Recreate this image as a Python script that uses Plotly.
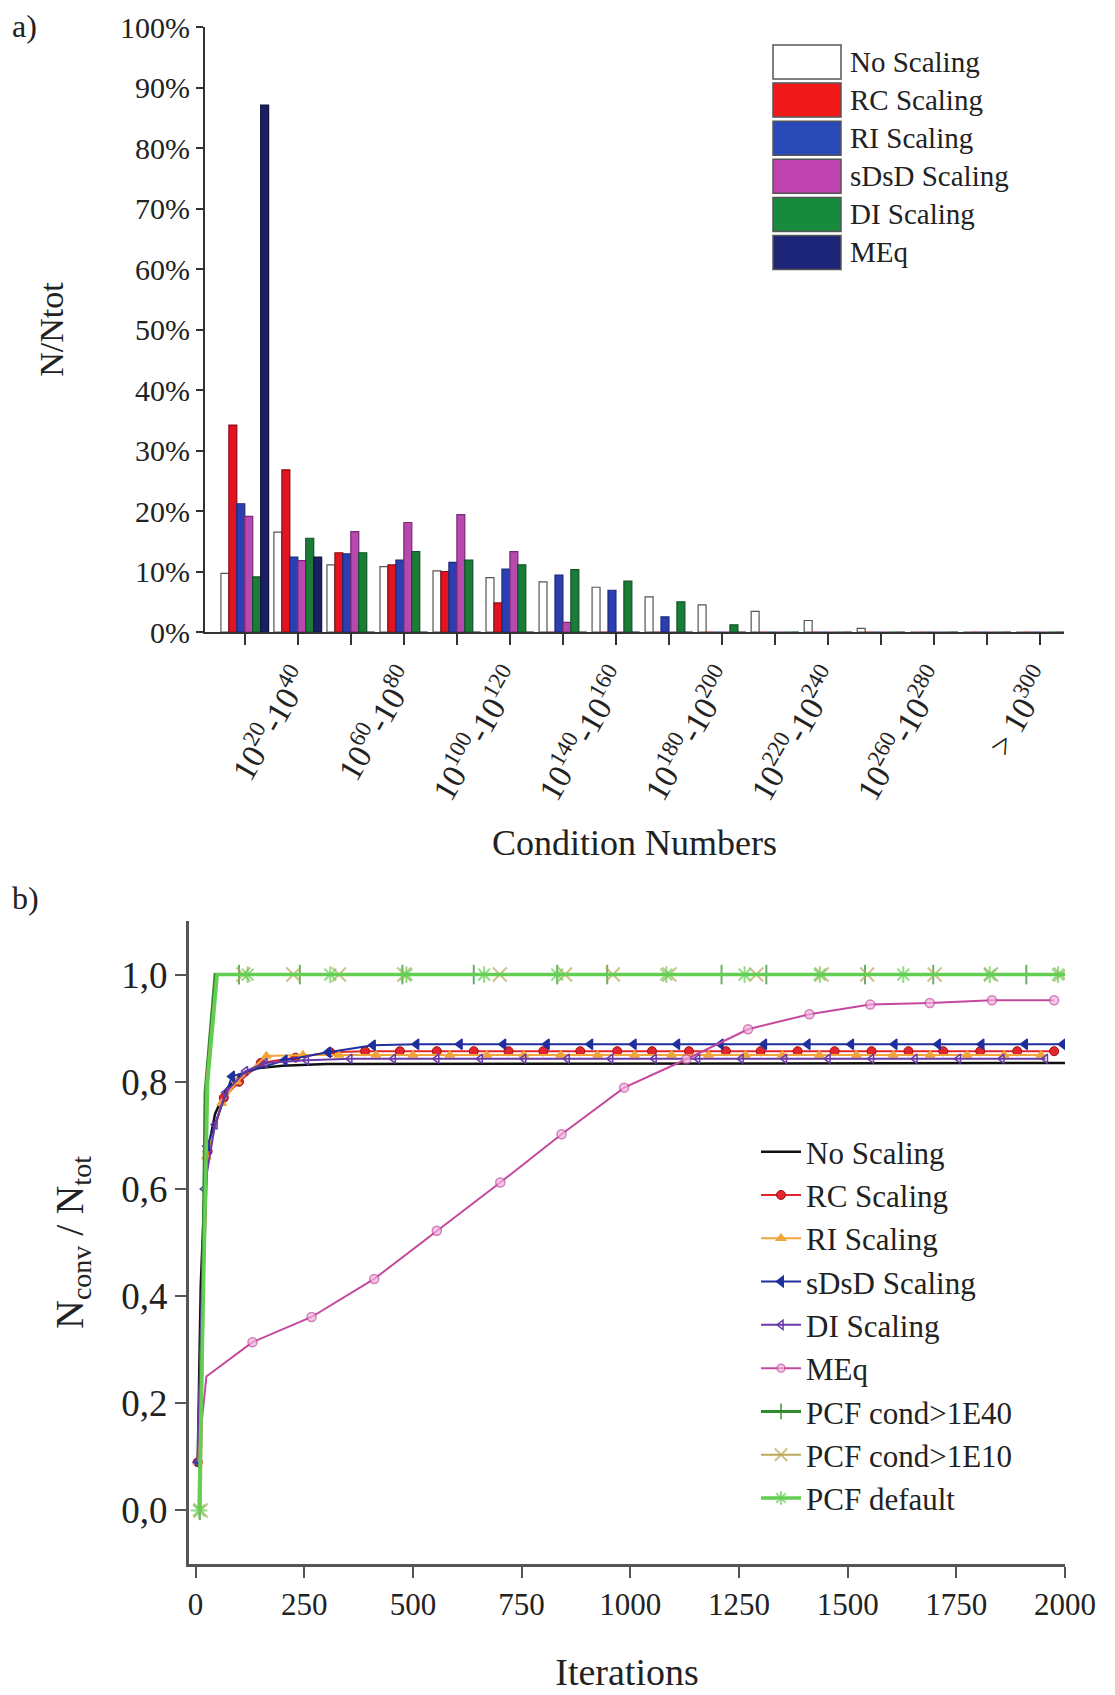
import plotly.graph_objects as go

W, H = 1115, 1695
OFF = 8  # the page body adds an 8 px margin; layout positions below are page pixels
FONT = "Liberation Serif"

# ---------------- (a) condition number histogram ----------------
cond_categories = [
    "10<sup>0</sup>-10<sup>20</sup>", "10<sup>20</sup>-10<sup>40</sup>",
    "10<sup>40</sup>-10<sup>60</sup>", "10<sup>60</sup>-10<sup>80</sup>",
    "10<sup>80</sup>-10<sup>100</sup>", "10<sup>100</sup>-10<sup>120</sup>",
    "10<sup>120</sup>-10<sup>140</sup>", "10<sup>140</sup>-10<sup>160</sup>",
    "10<sup>160</sup>-10<sup>180</sup>", "10<sup>180</sup>-10<sup>200</sup>",
    "10<sup>200</sup>-10<sup>220</sup>", "10<sup>220</sup>-10<sup>240</sup>",
    "10<sup>240</sup>-10<sup>260</sup>", "10<sup>260</sup>-10<sup>280</sup>",
    "10<sup>280</sup>-10<sup>300</sup>", "> 10<sup>300</sup>",
]
bar_names = ["No Scaling", "RC Scaling", "RI Scaling", "sDsD Scaling", "DI Scaling", "MEq"]
pct_no_scaling = [9.7, 16.5, 11.1, 10.8, 10.1, 9.0, 8.3, 7.4, 5.8, 4.5, 3.4, 1.9, 0.6, 0, 0, 0]
pct_rc = [34.2, 26.8, 13.1, 11.1, 10.0, 4.8, 0, 0, 0, 0, 0, 0, 0, 0, 0, 0]
pct_ri = [21.2, 12.4, 12.9, 11.9, 11.5, 10.4, 9.4, 6.9, 2.5, 0, 0, 0, 0, 0, 0, 0]
pct_sdsd = [19.1, 11.8, 16.6, 18.1, 19.4, 13.3, 1.6, 0, 0, 0, 0, 0, 0, 0, 0, 0]
pct_di = [9.1, 15.5, 13.1, 13.3, 11.9, 11.1, 10.3, 8.4, 5.0, 1.2, 0, 0, 0, 0, 0, 0]
pct_meq = [87.1, 12.4, 0, 0, 0, 0, 0, 0, 0, 0, 0, 0, 0, 0, 0, 0]
pct_ticks = [0, 10, 20, 30, 40, 50, 60, 70, 80, 90, 100]
pct_tick_text = ["0%", "10%", "20%", "30%", "40%", "50%", "60%", "70%", "80%", "90%", "100%"]

bar_values = [pct_no_scaling, pct_rc, pct_ri, pct_sdsd, pct_di, pct_meq]
bar_fill = ["#ffffff", "#e3141f", "#2b3fb3", "#b648ae", "#1a7d37", "#1b2063"]
bar_edge = ["#555555", "#8a0f18", "#1b2a7a", "#7a2a75", "#0f5224", "#10143d"]
swatch_fill = ["#ffffff", "#f01818", "#2a4ab8", "#c044b0", "#178a3b", "#1c2478"]

# ---------------- (b) convergence curves ----------------
iter_no = [5, 12, 20, 28, 45, 70, 100, 140, 200, 300, 2000]
conv_no = [0.09, 0.42, 0.58, 0.67, 0.74, 0.785, 0.81, 0.825, 0.83, 0.833, 0.835]

iter_rc = [5, 28, 65, 100, 150, 230, 310, 390, 470, 555, 640, 720, 800, 885, 970, 1050,
           1135, 1220, 1300, 1385, 1470, 1555, 1640, 1720, 1805, 1890, 1975]
conv_rc = [0.09, 0.67, 0.77, 0.80, 0.835, 0.845, 0.855, 0.857, 0.857, 0.857, 0.857, 0.857,
           0.857, 0.857, 0.857, 0.857, 0.857, 0.857, 0.857, 0.857, 0.857, 0.857, 0.857, 0.857,
           0.857, 0.857, 0.857]

iter_ri = [5, 25, 60, 95, 163, 247, 330, 415, 500, 585, 670, 755, 840, 925, 1010, 1095,
           1180, 1265, 1350, 1435, 1520, 1605, 1690, 1775, 1860, 1945]
conv_ri = [0.09, 0.66, 0.76, 0.80, 0.848, 0.85, 0.85, 0.85, 0.85, 0.85, 0.85, 0.85, 0.85,
           0.85, 0.85, 0.85, 0.85, 0.85, 0.85, 0.85, 0.85, 0.85, 0.85, 0.85, 0.85, 0.85]

iter_sd = [5, 27, 84, 205, 305, 408, 508, 608, 708, 808, 908, 1008, 1108, 1208, 1308, 1408,
           1508, 1608, 1708, 1808, 1908, 1995]
conv_sd = [0.09, 0.68, 0.81, 0.84, 0.855, 0.868, 0.87, 0.87, 0.87, 0.87, 0.87, 0.87, 0.87,
           0.87, 0.87, 0.87, 0.87, 0.87, 0.87, 0.87, 0.87, 0.87]

iter_di = [5, 20, 45, 69, 115, 160, 255, 355, 455, 555, 655, 755, 855, 955, 1055, 1155, 1255,
           1355, 1455, 1555, 1655, 1755, 1855, 1955]
conv_di = [0.09, 0.60, 0.72, 0.78, 0.82, 0.835, 0.84, 0.843, 0.843, 0.843, 0.843, 0.843, 0.843,
           0.843, 0.843, 0.843, 0.843, 0.843, 0.843, 0.843, 0.843, 0.843, 0.843, 0.843]

iter_meq = [5, 25, 131, 267, 411, 555, 701, 842, 986, 1129, 1271, 1412, 1552, 1689, 1832, 1975]
conv_meq = [0.09, 0.25, 0.314, 0.361, 0.432, 0.522, 0.612, 0.702, 0.789, 0.842, 0.898, 0.926,
            0.944, 0.947, 0.952, 0.952]
mark_meq = [0, 0, 1, 1, 1, 1, 1, 1, 1, 1, 1, 1, 1, 1, 1, 1]

iter_p40 = [10, 22, 45, 100, 240, 476, 640, 832, 947, 1210, 1313, 1540, 1697, 1911, 2000]
conv_p40 = [0.0, 0.78, 1.0, 1.0, 1.0, 1.0, 1.0, 1.0, 1.0, 1.0, 1.0, 1.0, 1.0, 1.0, 1.0]
mark_p40 = [1, 0, 0, 1, 1, 1, 1, 1, 1, 1, 1, 1, 1, 1, 0]

iter_p10 = [12, 25, 48, 110, 225, 330, 480, 700, 850, 960, 1090, 1290, 1440, 1545, 1700, 1830, 1990]
conv_p10 = [0.0, 0.8, 1.0, 1.0, 1.0, 1.0, 1.0, 1.0, 1.0, 1.0, 1.0, 1.0, 1.0, 1.0, 1.0, 1.0, 1.0]
mark_p10 = [1, 0, 0, 1, 1, 1, 1, 1, 1, 1, 1, 1, 1, 1, 1, 1, 1]

iter_pd = [8, 28, 50, 120, 310, 485, 664, 832, 1083, 1263, 1436, 1628, 1827, 1984, 2000]
conv_pd = [0.0, 0.8, 1.0, 1.0, 1.0, 1.0, 1.0, 1.0, 1.0, 1.0, 1.0, 1.0, 1.0, 1.0, 1.0]
mark_pd = [1, 0, 0, 1, 1, 1, 1, 1, 1, 1, 1, 1, 1, 1, 0]

iter_ticks = [0, 250, 500, 750, 1000, 1250, 1500, 1750, 2000]
conv_ticks = [0.0, 0.2, 0.4, 0.6, 0.8, 1.0]
conv_tick_text = ["0,0", "0,2", "0,4", "0,6", "0,8", "1,0"]


def fx(px):
    return (px - OFF) / W


def fy(py):
    return 1 - (py - OFF) / H


fig = go.Figure()

cat_pos = list(range(len(cond_categories)))
for name, vals, fill, edge in zip(bar_names, bar_values, bar_fill, bar_edge):
    fig.add_trace(go.Bar(
        x=cat_pos, y=vals, name=name, showlegend=False,
        hovertext=cond_categories,
        marker=dict(color=fill, line=dict(color=edge, width=1.2)),
        xaxis="x", yaxis="y",
    ))

line_series = [
    ("No Scaling", iter_no, conv_no, None, "#111111", "circle", 0, 2.5),
    ("RC Scaling", iter_rc, conv_rc, None, "#e3262e", "circle", 9, 2),
    ("RI Scaling", iter_ri, conv_ri, None, "#f0a53a", "triangle-up", 8, 2),
    ("sDsD Scaling", iter_sd, conv_sd, None, "#1f2f9c", "triangle-left", 9, 2),
    ("DI Scaling", iter_di, conv_di, None, "#6a3aa8", "triangle-left-open", 8, 2),
    ("MEq", iter_meq, conv_meq, mark_meq, "#c4489f", "circle", 9, 2),
    ("PCF cond&gt;1E40", iter_p40, conv_p40, mark_p40, "#2e8b2e", "line-ns-open", 14, 3),
    ("PCF cond&gt;1E10", iter_p10, conv_p10, mark_p10, "#b8a85a", "x-thin-open", 14, 2),
    ("PCF default", iter_pd, conv_pd, mark_pd, "#62cf52", "asterisk-open", 14, 3.5),
]

for name, xs, ys, marks, color, symbol, msize, lw in line_series:
    if marks is None:
        sizes = msize
    else:
        sizes = [msize * m for m in marks]
    mk = dict(symbol=symbol, size=sizes, color=color, line=dict(color=color, width=1.5))
    if name == "MEq":
        mk = dict(symbol="circle", size=sizes, color="#f2b4dc", line=dict(color=color, width=1.5))
    if name == "RC Scaling":
        mk = dict(symbol="circle", size=sizes, color="#e3262e", line=dict(color="#a01010", width=1))
    if symbol.endswith("open") and name != "DI Scaling":
        mk["line"] = dict(color=color, width=2)
    fig.add_trace(go.Scatter(
        x=xs, y=ys, name=name, mode="lines+markers" if msize else "lines",
        line=dict(color=color, width=lw), marker=mk,
        xaxis="x2", yaxis="y2", showlegend=True,
    ))

txt = "#222222"

fig.update_layout(
    width=W, height=H, autosize=False,
    margin=dict(l=0, r=0, t=0, b=0),
    paper_bgcolor="white", plot_bgcolor="white",
    font=dict(family=FONT, color=txt),
    barmode="group", bargap=0.1, bargroupgap=0.0,
    xaxis=dict(
        domain=[fx(205), fx(1064)], anchor="y",
        range=[-0.75, 15.45], tickmode="array",
        tickvals=cat_pos[1::2], ticktext=cond_categories[1::2],
        tickangle=-60, tickfont=dict(family=FONT, size=33, color=txt),
        ticks="outside", ticklen=11, tickwidth=2, tickcolor="#333333",
        minor=dict(tickmode="array", tickvals=cat_pos[0::2], ticks="outside",
                   ticklen=11, tickwidth=2, tickcolor="#333333", showgrid=False),
        showline=True, linecolor="#333333", linewidth=2, showgrid=False, zeroline=False,
        title=dict(text="Condition Numbers", font=dict(family=FONT, size=36, color=txt), standoff=24),
        automargin=False,
    ),
    yaxis=dict(
        domain=[fy(632), fy(27)], anchor="x", range=[0, 100],
        tickmode="array", tickvals=pct_ticks, ticktext=pct_tick_text,
        tickfont=dict(family=FONT, size=30, color=txt),
        ticks="outside", ticklen=7, tickwidth=2, tickcolor="#333333",
        showline=True, linecolor="#333333", linewidth=2, showgrid=False, zeroline=False,
        title=dict(text="N/Ntot", font=dict(family=FONT, size=34, color=txt), standoff=46),
        automargin=False,
    ),
    xaxis2=dict(
        domain=[fx(189), fx(1065)], anchor="y2", range=[-15, 2000],
        tickmode="array", tickvals=iter_ticks, tickfont=dict(family=FONT, size=31, color=txt),
        ticks="outside", ticklen=11, tickwidth=2, tickcolor="#555555",
        showline=True, linecolor="#555555", linewidth=3, showgrid=False, zeroline=False,
        title=dict(text="Iterations", font=dict(family=FONT, size=38, color=txt), standoff=38),
        automargin=False,
    ),
    yaxis2=dict(
        domain=[fy(1564), fy(921)], anchor="x2", range=[-0.1, 1.1],
        tickmode="array", tickvals=conv_ticks, ticktext=conv_tick_text,
        tickfont=dict(family=FONT, size=37, color=txt),
        ticks="outside", ticklen=11, tickwidth=2, tickcolor="#555555",
        showline=True, linecolor="#555555", linewidth=3, showgrid=False, zeroline=False,
        title=dict(text="N<sub>conv</sub> / N<sub>tot</sub>", font=dict(family=FONT, size=40, color=txt), standoff=26),
        automargin=False,
    ),
    legend=dict(
        x=fx(756), y=fy(1125), xanchor="left", yanchor="top",
        font=dict(family=FONT, size=31, color=txt),
        bgcolor="rgba(255,255,255,0)", borderwidth=0, tracegroupgap=0,
        itemwidth=40,
    ),
)

# custom legend for panel (a): large colour swatches as in the original
shapes = []
annotations = []
for i, (name, sw) in enumerate(zip(bar_names, swatch_fill)):
    yc = 62 + 38.1 * i
    shapes.append(dict(type="rect", xref="paper", yref="paper",
                       x0=fx(773), x1=fx(841), y0=fy(yc + 17), y1=fy(yc - 17),
                       fillcolor=sw, line=dict(color="#555555", width=1.5)))
    annotations.append(dict(text=name, xref="paper", yref="paper", x=fx(848), y=fy(yc),
                            xanchor="left", yanchor="middle", showarrow=False,
                            font=dict(family=FONT, size=29, color=txt)))

annotations.append(dict(text="a)", xref="paper", yref="paper", x=fx(10), y=fy(26),
                        xanchor="left", yanchor="middle", showarrow=False,
                        font=dict(family=FONT, size=32, color=txt)))
annotations.append(dict(text="b)", xref="paper", yref="paper", x=fx(10), y=fy(898),
                        xanchor="left", yanchor="middle", showarrow=False,
                        font=dict(family=FONT, size=32, color=txt)))

fig.update_layout(shapes=shapes, annotations=annotations)

fig.write_html("out.html")
